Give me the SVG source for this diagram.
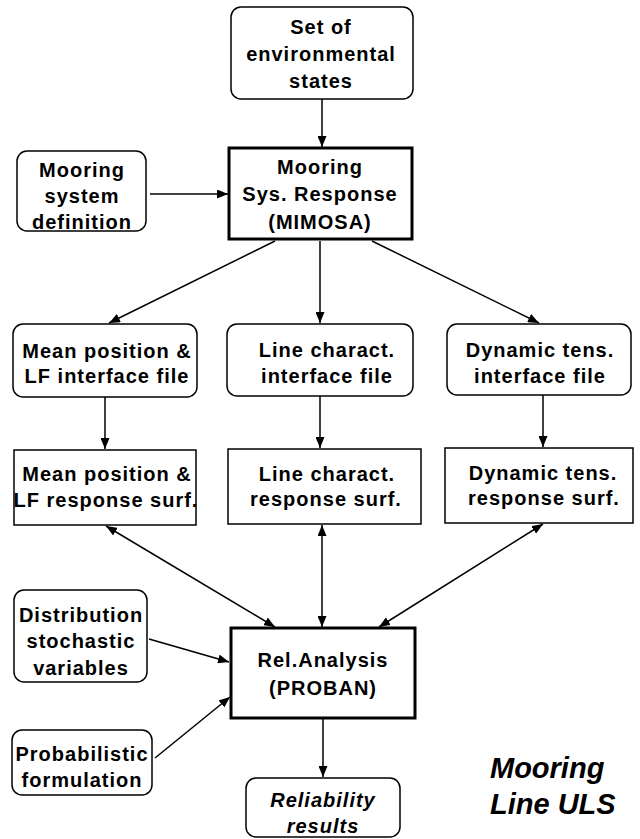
<svg xmlns="http://www.w3.org/2000/svg" width="640" height="839" viewBox="0 0 640 839">
<defs>
<style>
rect{fill:#fff;stroke:#000;stroke-width:1.5}
rect.thick{stroke-width:3}
rect.bg{stroke:none}
text{font-family:"Liberation Sans",Arial,sans-serif;font-weight:bold;font-size:20px;letter-spacing:1px;text-anchor:middle;fill:#000}
text.it{font-style:italic}
text.title{font-size:29px;font-style:italic;text-anchor:start;letter-spacing:0}
#connectors line{stroke:#000;stroke-width:1.5;fill:none}
</style>
<marker id="ah" markerWidth="11" markerHeight="9" refX="11" refY="4.5" orient="auto-start-reverse" markerUnits="userSpaceOnUse">
<path d="M0,0 L11,4.5 L0,9 z" fill="#000"/>
</marker>
</defs>
<rect class="bg" x="0" y="0" width="640" height="839"/>
<g id="connectors">
<line x1="322" y1="99" x2="322" y2="147" marker-end="url(#ah)"/>
<line x1="150" y1="194" x2="228" y2="194" marker-end="url(#ah)"/>
<line x1="275" y1="241" x2="109" y2="323" marker-end="url(#ah)"/>
<line x1="320" y1="241" x2="320" y2="323" marker-end="url(#ah)"/>
<line x1="372" y1="241" x2="539" y2="323" marker-end="url(#ah)"/>
<line x1="105" y1="397" x2="105" y2="449" marker-end="url(#ah)"/>
<line x1="320" y1="396" x2="320" y2="448" marker-end="url(#ah)"/>
<line x1="543" y1="395" x2="543" y2="447" marker-end="url(#ah)"/>
<line x1="106" y1="526" x2="275" y2="627" marker-start="url(#ah)" marker-end="url(#ah)"/>
<line x1="322" y1="525" x2="322" y2="627" marker-start="url(#ah)" marker-end="url(#ah)"/>
<line x1="543" y1="524" x2="379" y2="627" marker-start="url(#ah)" marker-end="url(#ah)"/>
<line x1="149" y1="639" x2="229" y2="662" marker-end="url(#ah)"/>
<line x1="155" y1="758" x2="230" y2="697" marker-end="url(#ah)"/>
<line x1="323" y1="719" x2="323" y2="777" marker-end="url(#ah)"/>
</g>
<g id="env">
<rect x="231" y="7" width="182" height="92" rx="10"/>
<text x="321" y="34">Set of</text>
<text x="321" y="61">environmental</text>
<text x="321" y="88">states</text>
</g>
<g id="msd">
<rect x="17" y="151" width="129" height="80" rx="10"/>
<text x="82" y="177">Mooring</text>
<text x="82" y="203">system</text>
<text x="82" y="229">definition</text>
</g>
<g id="mimosa">
<rect class="thick" x="229" y="148" width="183" height="91"/>
<text x="320" y="174">Mooring</text>
<text x="320" y="201">Sys. Response</text>
<text x="320" y="229">(MIMOSA)</text>
</g>
<g id="int1">
<rect x="13" y="324" width="184" height="73" rx="10"/>
<text x="107" y="358">Mean position &amp;</text>
<text x="107" y="383">LF interface file</text>
</g>
<g id="int2">
<rect x="227" y="324" width="186" height="72" rx="10"/>
<text x="327" y="357">Line charact.</text>
<text x="327" y="383">interface file</text>
</g>
<g id="int3">
<rect x="447" y="324" width="184" height="71" rx="10"/>
<text x="540" y="357">Dynamic tens.</text>
<text x="540" y="383">interface file</text>
</g>
<g id="rs1">
<rect x="14" y="450" width="182" height="75"/>
<text x="107" y="481">Mean position &amp;</text>
<text x="106" y="507">LF response surf.</text>
</g>
<g id="rs2">
<rect x="228" y="449" width="193" height="75"/>
<text x="327" y="481">Line charact.</text>
<text x="326" y="506">response surf.</text>
</g>
<g id="rs3">
<rect x="445" y="448" width="188" height="75"/>
<text x="543" y="480">Dynamic tens.</text>
<text x="544" y="505">response surf.</text>
</g>
<g id="rel">
<rect class="thick" x="231" y="628" width="184" height="90"/>
<text x="323" y="667">Rel.Analysis</text>
<text x="323" y="695">(PROBAN)</text>
</g>
<g id="dist">
<rect x="14" y="590" width="133" height="92" rx="10"/>
<text x="81" y="622">Distribution</text>
<text x="81" y="648">stochastic</text>
<text x="81" y="675">variables</text>
</g>
<g id="prob">
<rect x="12" y="730" width="140" height="65" rx="10"/>
<text x="82" y="761">Probabilistic</text>
<text x="82" y="787">formulation</text>
</g>
<g id="results">
<rect x="246" y="778" width="154" height="59" rx="10"/>
<text class="it" x="323" y="807">Reliability</text>
<text class="it" x="323" y="833">results</text>
</g>
<g id="title">
<text class="title" x="490" y="778">Mooring</text>
<text class="title" x="490" y="814">Line ULS</text>
</g>
</svg>
